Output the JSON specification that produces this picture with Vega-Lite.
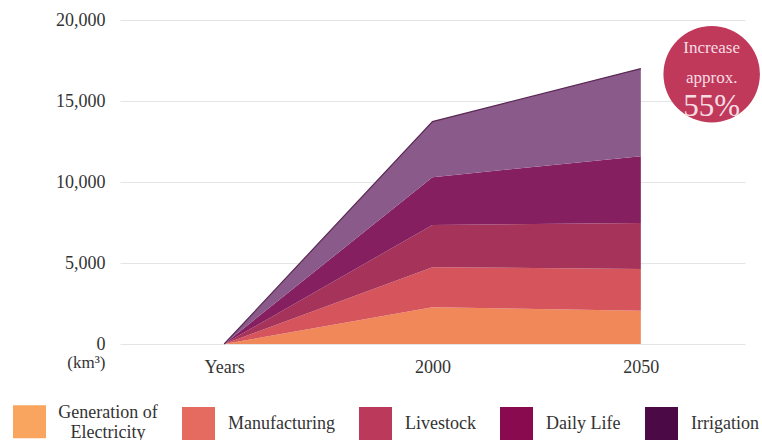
{
  "$schema": "https://vega.github.io/schema/vega-lite/v6.json",
  "width": 625,
  "height": 324,
  "autosize": {"type": "none"},
  "padding": {"left": 120, "top": 20, "right": 17, "bottom": 96},
  "background": "white",
  "config": {"view": {"stroke": null}, "font": "Liberation Serif"},
  "layer": [
    {
      "data": {
        "values": [
          {"year": 1950, "type": "Generation of Electricity", "k": 1, "value": 0},
          {"year": 1950, "type": "Manufacturing", "k": 2, "value": 0},
          {"year": 1950, "type": "Livestock", "k": 3, "value": 0},
          {"year": 1950, "type": "Daily Life", "k": 4, "value": 0},
          {"year": 1950, "type": "Irrigation", "k": 5, "value": 0},
          {"year": 2000, "type": "Generation of Electricity", "k": 1, "value": 2270},
          {"year": 2000, "type": "Manufacturing", "k": 2, "value": 2470},
          {"year": 2000, "type": "Livestock", "k": 3, "value": 2610},
          {"year": 2000, "type": "Daily Life", "k": 4, "value": 2950},
          {"year": 2000, "type": "Irrigation", "k": 5, "value": 3430},
          {"year": 2050, "type": "Generation of Electricity", "k": 1, "value": 2050},
          {"year": 2050, "type": "Manufacturing", "k": 2, "value": 2580},
          {"year": 2050, "type": "Livestock", "k": 3, "value": 2840},
          {"year": 2050, "type": "Daily Life", "k": 4, "value": 4120},
          {"year": 2050, "type": "Irrigation", "k": 5, "value": 5410}
        ]
      },
      "mark": {"type": "area", "strokeWidth": 0},
      "encoding": {
        "x": {
          "field": "year",
          "type": "quantitative",
          "scale": {"domain": [1925, 2075], "nice": false},
          "axis": {
            "values": [1950, 2000, 2050],
            "format": "d",
            "labelExpr": "datum.value == 1950 ? 'Years' : datum.label",
            "title": null,
            "grid": false,
            "domain": false,
            "ticks": false,
            "labelFontSize": 18,
            "labelColor": "#333333",
            "labelPadding": 14
          }
        },
        "y": {
          "field": "value",
          "type": "quantitative",
          "stack": "zero",
          "scale": {"domain": [0, 20000], "nice": false},
          "axis": {
            "values": [0, 5000, 10000, 15000, 20000],
            "format": ",d",
            "title": "(km³)",
            "titleAngle": 0,
            "titleAlign": "right",
            "titleBaseline": "middle",
            "titleX": -15,
            "titleY": 342,
            "titleFontSize": 17,
            "titleFontWeight": "normal",
            "titleColor": "#333333",
            "titleFont": "Liberation Serif",
            "domain": false,
            "ticks": false,
            "gridColor": "#e4e4e4",
            "gridWidth": 1,
            "labelFontSize": 18,
            "labelColor": "#333333",
            "labelPadding": 15
          }
        },
        "order": {"field": "k", "type": "quantitative"},
        "fill": {
          "field": "type",
          "type": "nominal",
          "sort": {"field": "k", "op": "min"},
          "scale": {
            "range": ["#f0885a", "#d6555d", "#a6345a", "#861f5f", "#8a5a8a"]
          },
          "legend": null
        }
      }
    },
    {
      "data": {
        "values": [
          {"year": 1950, "total": 0},
          {"year": 2000, "total": 13730},
          {"year": 2050, "total": 17000}
        ]
      },
      "mark": {"type": "line", "color": "#5a2a55", "strokeWidth": 1.2},
      "encoding": {
        "x": {"field": "year", "type": "quantitative"},
        "y": {"field": "total", "type": "quantitative"}
      }
    },
    {
      "data": {
        "values": [
          {"cat": "Generation of Electricity"},
          {"cat": "Manufacturing"},
          {"cat": "Livestock"},
          {"cat": "Daily Life"},
          {"cat": "Irrigation"}
        ]
      },
      "mark": {"type": "square", "filled": true, "clip": true, "opacity": 1},
      "encoding": {
        "x": {"datum": 1950},
        "y": {"datum": -5000},
        "color": {
          "field": "cat",
          "type": "nominal",
          "scale": {
            "domain": ["Generation of Electricity", "Manufacturing", "Livestock", "Daily Life", "Irrigation"],
            "range": ["#f9a45f", "#e56a5f", "#bb3a5b", "#8a0a4f", "#4b0945"]
          },
          "legend": {
            "orient": "none",
            "legendX": -107,
            "legendY": 385,
            "direction": "horizontal",
            "title": null,
            "symbolType": "square",
            "symbolSize": 1089,
            "symbolStrokeWidth": 0,
            "symbolOpacity": 1,
            "labelFontSize": 18,
            "labelColor": "#333333",
            "labelOffset": 13,
            "columnPadding": 24,
            "labelLimit": 200,
            "labelExpr": "datum.label == 'Generation of Electricity' ? ['Generation of', 'Electricity'] : datum.label",
            "encode": {
              "labels": {
                "update": {
                  "align": {"signal": "datum.label == 'Generation of Electricity' ? 'center' : 'left'"},
                  "dx": {"signal": "datum.label == 'Generation of Electricity' ? 49 : 0"},
                  "dy": {"signal": "datum.label == 'Generation of Electricity' ? -9 : 0"}
                }
              }
            }
          }
        }
      }
    },
    {
      "data": {"values": [{}]},
      "mark": {"type": "point", "filled": true, "size": 9300, "color": "#c0395a", "opacity": 1, "strokeWidth": 0},
      "encoding": {
        "x": {"datum": 2067},
        "y": {"datum": 16650}
      }
    },
    {
      "data": {"values": [{}]},
      "mark": {"type": "text", "color": "#f6dce3", "fontSize": 17, "font": "Liberation Serif", "baseline": "middle", "align": "center"},
      "encoding": {
        "x": {"datum": 2067},
        "y": {"datum": 18280},
        "text": {"value": "Increase"}
      }
    },
    {
      "data": {"values": [{}]},
      "mark": {"type": "text", "color": "#f6dce3", "fontSize": 17, "font": "Liberation Serif", "baseline": "middle", "align": "center"},
      "encoding": {
        "x": {"datum": 2067},
        "y": {"datum": 16450},
        "text": {"value": "approx."}
      }
    },
    {
      "data": {"values": [{}]},
      "mark": {"type": "text", "color": "#f6dce3", "fontSize": 31, "font": "Liberation Serif", "baseline": "middle", "align": "center"},
      "encoding": {
        "x": {"datum": 2067},
        "y": {"datum": 14600},
        "text": {"value": "55%"}
      }
    }
  ]
}
